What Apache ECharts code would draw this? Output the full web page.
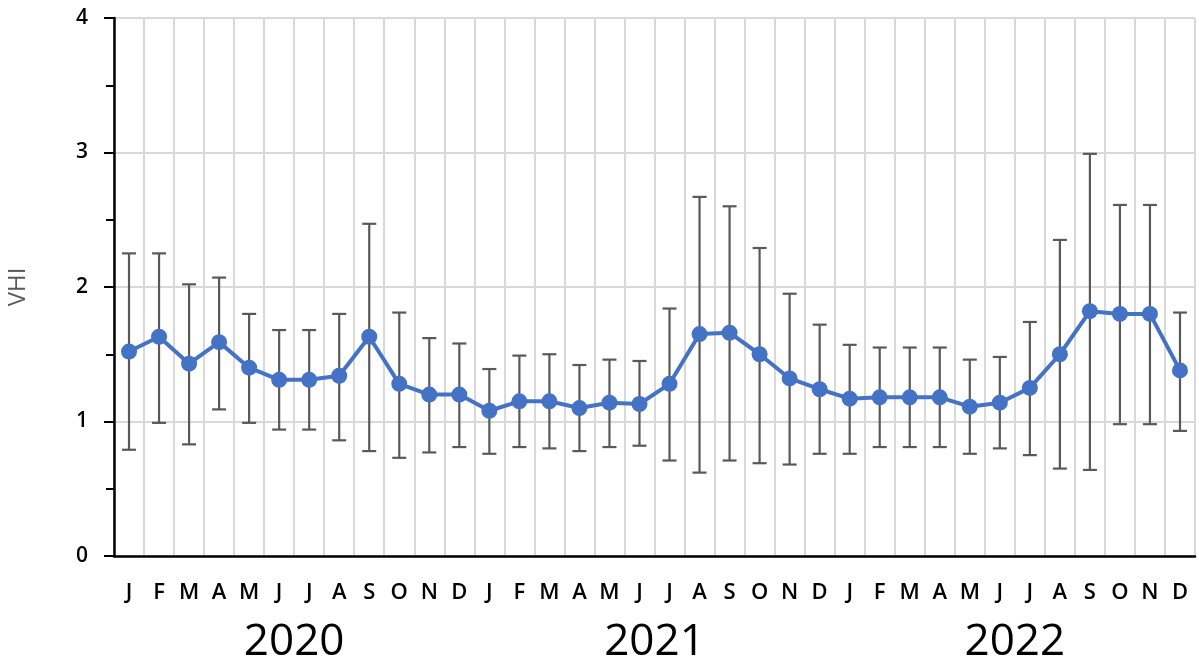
<!DOCTYPE html>
<html>
<head>
<meta charset="utf-8">
<script src="https://cdn.jsdelivr.net/npm/echarts@6/dist/echarts.min.js"></script>
<style>
html,body{margin:0;padding:0;background:#fff;}
#chart{width:1199px;height:658px;}
</style>
</head>
<body>
<div id="chart"></div>
<script>
const months = ['J','F','M','A','M','J','J','A','S','O','N','D',
                'J','F','M','A','M','J','J','A','S','O','N','D',
                'J','F','M','A','M','J','J','A','S','O','N','D'];
const years = ['2020','2021','2022'];
const vhiMean = [1.52,1.63,1.43,1.59,1.40,1.31,1.31,1.34,1.63,1.28,1.20,1.20,
                 1.08,1.15,1.15,1.10,1.14,1.13,1.28,1.65,1.66,1.50,1.32,1.24,
                 1.17,1.18,1.18,1.18,1.11,1.14,1.25,1.50,1.82,1.80,1.80,1.38];
const vhiLow  = [0.79,0.99,0.83,1.09,0.99,0.94,0.94,0.86,0.78,0.73,0.77,0.81,
                 0.76,0.81,0.80,0.78,0.81,0.82,0.71,0.62,0.71,0.69,0.68,0.76,
                 0.76,0.81,0.81,0.81,0.76,0.80,0.75,0.65,0.64,0.98,0.98,0.93];
const vhiHigh = [2.25,2.25,2.02,2.07,1.80,1.68,1.68,1.80,2.47,1.81,1.62,1.58,
                 1.39,1.49,1.50,1.42,1.46,1.45,1.84,2.67,2.60,2.29,1.95,1.72,
                 1.57,1.55,1.55,1.55,1.46,1.48,1.74,2.35,2.99,2.61,2.61,1.81];
const yTicks = [0,1,2,3,4];

const FONT = '"Open Sans", Lato, sans-serif';
const errData = months.map((m,i)=>[i, vhiLow[i], vhiHigh[i]]);

const chart = echarts.init(document.getElementById('chart'));
chart.setOption({
  animation:false,
  backgroundColor:'#fff',
  grid:{left:114,right:4,top:18,bottom:102,containLabel:false,outerBoundsMode:'none'},
  xAxis:[{
    type:'category',
    data:months,
    boundaryGap:true,
    axisLine:{show:true,lineStyle:{color:'#000',width:2.5}},
    axisTick:{show:false},
    axisLabel:{interval:0,color:'#000',fontSize:22,fontWeight:600,fontFamily:FONT,margin:26},
    splitLine:{show:true,interval:0,lineStyle:{color:'#d9d9d9',width:2}}
  },{
    type:'category',
    data:years,
    position:'bottom',
    offset:58,
    boundaryGap:true,
    axisLine:{show:false},
    axisTick:{show:false},
    axisLabel:{interval:0,color:'#000',fontSize:44,fontFamily:FONT,margin:6},
    splitLine:{show:false}
  }],
  yAxis:{
    type:'value',
    min:yTicks[0],max:yTicks[yTicks.length-1],interval:1,
    name:'VHI',
    nameLocation:'middle',
    nameGap:84,
    nameRotate:90,
    nameTextStyle:{color:'#595959',fontSize:24,fontFamily:FONT},
    axisLine:{show:true,lineStyle:{color:'#000',width:2.5}},
    axisTick:{show:true,length:10,lineStyle:{color:'#000',width:2}},
    minorTick:{show:true,splitNumber:2,length:8,lineStyle:{color:'#000',width:2}},
    axisLabel:{color:'#000',fontSize:21,fontWeight:600,fontFamily:FONT,margin:26},
    splitLine:{show:true,lineStyle:{color:'#d9d9d9',width:2}}
  },
  series:[{
    type:'custom',
    xAxisIndex:0,
    data:errData,
    z:3,
    renderItem:function(params,api){
      const x = api.value(0);
      const lo = api.coord([x, api.value(1)]);
      const hi = api.coord([x, api.value(2)]);
      const cap = 7;
      const st = {stroke:'#595959',lineWidth:2.2};
      return {type:'group',children:[
        {type:'line',shape:{x1:lo[0],y1:lo[1],x2:hi[0],y2:hi[1]},style:st},
        {type:'line',shape:{x1:lo[0]-cap,y1:lo[1],x2:lo[0]+cap,y2:lo[1]},style:st},
        {type:'line',shape:{x1:hi[0]-cap,y1:hi[1],x2:hi[0]+cap,y2:hi[1]},style:st}
      ]};
    }
  },{
    type:'line',
    xAxisIndex:0,
    data:vhiMean,
    z:5,
    symbol:'circle',
    symbolSize:16,
    lineStyle:{color:'#4472C4',width:4},
    itemStyle:{color:'#4472C4'}
  }]
});
</script>
</body>
</html>
